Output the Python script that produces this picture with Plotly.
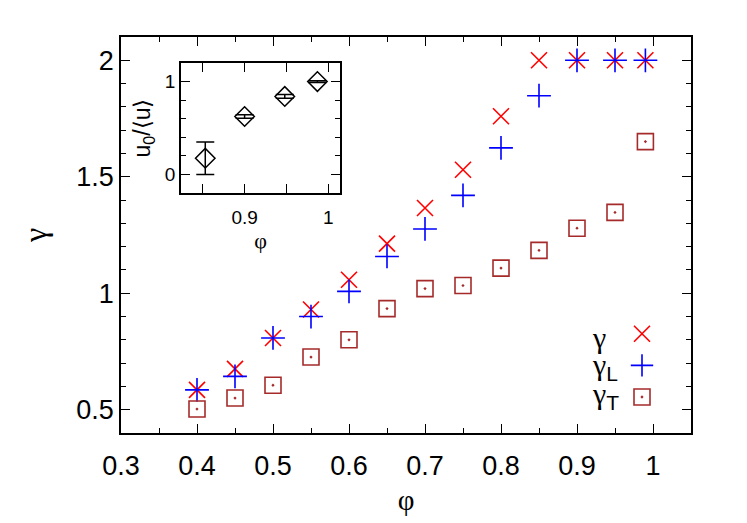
import plotly.graph_objects as go

# ---------------- data ----------------
phi = [0.40, 0.45, 0.50, 0.55, 0.60, 0.65, 0.70, 0.75, 0.80, 0.85, 0.90, 0.95, 0.99]
gamma = [0.585, 0.675, 0.808, 0.930, 1.058, 1.213, 1.366, 1.530, 1.760, 2.0, 2.0, 2.0, 2.0]
gamma_L = [0.585, 0.643, 0.808, 0.900, 1.008, 1.158, 1.276, 1.420, 1.624, 1.848, 2.0, 2.0, 2.0]
gamma_T = [0.503, 0.550, 0.605, 0.726, 0.800, 0.934, 1.020, 1.033, 1.108, 1.184, 1.279, 1.347, 1.651]

inset_phi = [0.853, 0.90, 0.948, 0.987]
inset_u = [0.175, 0.624, 0.840, 1.0]
inset_err = [0.175, 0.02, 0.02, 0.01]

legend_labels = ["γ",
                 "γ<sub><span style='font-family:Liberation Sans'>L</span></sub>",
                 "γ<sub><span style='font-family:Liberation Sans'>T</span></sub>"]

FONT = "Liberation Sans, Arial, sans-serif"
GREEK = "Liberation Serif, Times New Roman, serif"

# page body adds an 8 px offset; figure sized so plot area lands where the reference has it
OFF = 8
W, H = 747 - OFF, 523 - OFF
L, R, T, B = 121 - OFF, 747 - 691, 37 - OFF, 523 - 433
PW, PH = W - L - R, H - T - B


def px2paper(xp, yp):
    return (xp - 121) / PW, (433 - yp) / PH


fig = go.Figure()

fig.add_trace(go.Scatter(x=phi, y=gamma, mode="markers", name=" ",
                         marker=dict(symbol="x-thin-open", size=16, color="#ff0000",
                                     line=dict(width=1.6, color="#ff0000"))))
fig.add_trace(go.Scatter(x=phi, y=gamma_L, mode="markers", name=" ",
                         marker=dict(symbol="cross-thin-open", size=17, color="#0000ff",
                                     line=dict(width=1.6, color="#0000ff"))))
fig.add_trace(go.Scatter(x=phi, y=gamma_T, mode="markers", name=" ",
                         marker=dict(symbol="square-open-dot", size=16, color="#a52a2a",
                                     line=dict(width=1.6, color="#a52a2a"))))

fig.add_trace(go.Scatter(x=inset_phi, y=inset_u, mode="markers", xaxis="x2", yaxis="y2",
                         showlegend=False,
                         marker=dict(symbol="diamond-open", size=15, color="black",
                                     line=dict(width=1.5, color="black")),
                         error_y=dict(type="data", array=inset_err, visible=True,
                                      color="black", thickness=1.5, width=9)))

axis_common = dict(showline=True, linecolor="black", linewidth=1.5, mirror="allticks",
                   ticks="inside", tickcolor="black", tickwidth=1, showgrid=False,
                   zeroline=False, automargin=False)

ix0, iy0 = px2paper(181, 193)
ix1, iy1 = px2paper(340, 63)

fig.update_layout(
    width=W, height=H,
    paper_bgcolor="white", plot_bgcolor="white",
    margin=dict(l=L, r=R, t=T, b=B),
    font=dict(family=FONT, color="black"),
    xaxis=dict(range=[0.3, 1.05], tickvals=[0.3, 0.4, 0.5, 0.6, 0.7, 0.8, 0.9, 1.0],
               ticktext=["0.3", "0.4", "0.5", "0.6", "0.7", "0.8", "0.9", "1"],
               ticklen=9, tickfont=dict(size=27), ticklabelstandoff=8,
               minor=dict(dtick=0.05, tick0=0.3, ticklen=5, ticks="inside", tickcolor="black"),
               title=dict(text="φ", font=dict(size=29, family=GREEK), standoff=10),
               **axis_common),
    yaxis=dict(range=[0.4, 2.1], tickvals=[0.5, 1.0, 1.5, 2.0],
               ticktext=["0.5", "1", "1.5", "2"],
               ticklen=9, tickfont=dict(size=27),
               minor=dict(dtick=0.1, tick0=0.4, ticklen=5, ticks="inside", tickcolor="black"),
               title=dict(text="γ", font=dict(size=32, family=GREEK), standoff=20),
               **axis_common),
    xaxis2=dict(domain=[ix0, ix1], anchor="y2", range=[0.824, 1.014],
                tickvals=[0.9, 1.0], ticktext=["0.9", "1"], ticklen=9,
                tickfont=dict(size=19), ticklabelstandoff=6,
                minor=dict(tickvals=[0.85, 0.95], ticklen=9, ticks="inside", tickcolor="black"),
                title=dict(text="φ", font=dict(size=22, family=GREEK), standoff=4),
                **axis_common),
    yaxis2=dict(domain=[iy0, iy1], anchor="x2", range=[-0.2, 1.2],
                tickvals=[0, 1], ticktext=["0", "1"], ticklen=9,
                tickfont=dict(size=19),
                minor=dict(dtick=0.2, tick0=0, ticklen=5, ticks="inside", tickcolor="black"),
                title=dict(text="u<sub>0</sub>/⟨u⟩", font=dict(size=23), standoff=8),
                **axis_common),
    legend=dict(x=px2paper(622, 0)[0], y=px2paper(0, 313)[1], xanchor="left", yanchor="top",
                bgcolor="rgba(0,0,0,0)", font=dict(size=22), itemwidth=30, tracegroupgap=0),
)

# legend text placed to the left of the legend keys (gnuplot style)
label_y = [337, 366, 395]
for lab, py in zip(legend_labels, label_y):
    ax, ay = px2paper(590, py)
    fig.add_annotation(text=lab, xref="paper", yref="paper", x=ax, y=ay,
                       xanchor="left", yanchor="middle",
                       showarrow=False, font=dict(size=30, family=GREEK))

fig.write_html("out.html")
